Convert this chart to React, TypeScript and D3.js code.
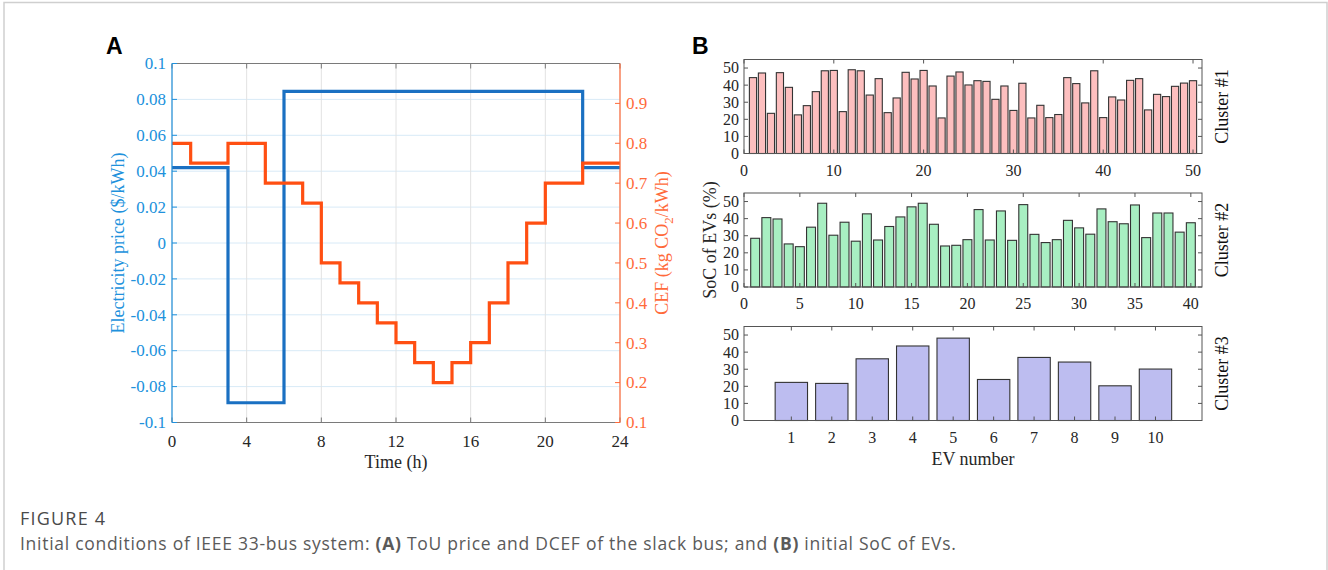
import React, { useEffect, useRef } from "react";
import * as d3 from "d3";

// Panel A: ToU price and CEF of the slack bus
const priceTimes = [0, 3, 6, 22, 24];
const priceValues = [0.042, -0.089, 0.0845, 0.042, 0.042];
const cefTimes = [0, 1, 3, 5, 7, 8, 9, 10, 11, 12, 13, 14, 15, 16, 17, 18, 19, 20, 22, 24];
const cefValues = [0.8, 0.75, 0.8, 0.7, 0.65, 0.5, 0.45, 0.4, 0.35, 0.3, 0.25, 0.2, 0.25, 0.3, 0.4, 0.5, 0.6, 0.7, 0.75, 0.75];
const timeTicks = [0, 4, 8, 12, 16, 20, 24];
const priceTicks = [-0.1, -0.08, -0.06, -0.04, -0.02, 0, 0.02, 0.04, 0.06, 0.08, 0.1];
const cefTicks = [0.1, 0.2, 0.3, 0.4, 0.5, 0.6, 0.7, 0.8, 0.9];

// Panel B: initial SoC of EVs per cluster
const cluster1 = [
  44.4, 47.1, 23.5, 47.3, 38.7, 22.6, 28.0, 36.2, 48.4, 48.6,
  24.5, 49.0, 48.4, 34.2, 43.8, 23.9, 32.5, 47.5, 43.6, 48.6,
  39.5, 20.8, 45.3, 47.7, 40.1, 42.6, 42.2, 31.7, 39.5, 25.2,
  41.1, 20.8, 28.2, 21.0, 22.8, 44.4, 40.9, 29.6, 48.4, 21.0,
  33.1, 31.3, 42.8, 43.8, 25.5, 34.6, 33.3, 39.3, 41.2, 42.6,
];
const cluster2 = [
  28.5, 40.6, 39.8, 25.2, 23.6, 35.0, 49.0, 30.3, 37.9, 26.8,
  42.8, 27.5, 35.4, 41.0, 46.9, 49.0, 36.7, 24.0, 24.4, 27.7,
  45.3, 27.5, 44.5, 27.3, 48.2, 30.8, 26.0, 27.7, 39.0, 34.6,
  30.9, 45.7, 38.2, 37.0, 48.0, 28.9, 43.3, 43.3, 32.1, 37.6,
];
const cluster3 = [22.3, 21.7, 36.1, 43.6, 48.2, 24.0, 36.9, 34.2, 20.3, 30.1];
const cluster1Ticks = [0, 10, 20, 30, 40, 50];
const cluster2Ticks = [0, 5, 10, 15, 20, 25, 30, 35, 40];
const cluster3Ticks = [1, 2, 3, 4, 5, 6, 7, 8, 9, 10];
const socTicks = [0, 10, 20, 30, 40, 50];

const SERIF = "'Liberation Serif', 'Times New Roman', serif";
const AX = "#262626";

const App = () => {
  const ref = useRef(null);

  useEffect(() => {
    const svg = d3.select(ref.current);
    svg.selectAll("*").remove();

    // figure frame
    svg.append("path")
      .attr("d", "M4,572 V2.5 H1327 V572")
      .attr("fill", "none")
      .attr("stroke", "#cfcfcf")
      .attr("stroke-width", 1.5);

    // ---------- Panel A ----------
    const left = 172, right = 620, top = 63.5, bottom = 422.5;
    const x = d3.scaleLinear([0, 24], [left, right]);
    const yL = d3.scaleLinear([-0.1, 0.1], [bottom, top]);
    const yR = d3.scaleLinear([0.1, 1.0], [bottom, top]);
    const blue = "#1a70c2";
    const blueTxt = "#2091dc";
    const orange = "#ff4f12";
    const orangeTxt = "#ff6a3a";

    const a = svg.append("g");

    a.append("text").attr("x", 106).attr("y", 54)
      .attr("font-family", "'Liberation Sans', Arial, sans-serif")
      .attr("font-weight", "bold").attr("font-size", 23).text("A");

    // grid
    a.selectAll(".hg").data(priceTicks).join("line")
      .attr("x1", left).attr("x2", right)
      .attr("y1", (d) => yL(d)).attr("y2", (d) => yL(d))
      .attr("stroke", "#d8eaf7").attr("stroke-width", 1);
    a.selectAll(".vg").data(timeTicks).join("line")
      .attr("x1", (d) => x(d)).attr("x2", (d) => x(d))
      .attr("y1", top).attr("y2", bottom)
      .attr("stroke", "#e2e2e2").attr("stroke-width", 1);

    // series
    const priceLine = d3.line()
      .x((d, i) => x(priceTimes[i]))
      .y((d) => yL(d))
      .curve(d3.curveStepAfter);
    const cefLine = d3.line()
      .x((d, i) => x(cefTimes[i]))
      .y((d) => yR(d))
      .curve(d3.curveStepAfter);

    a.append("path").attr("d", priceLine(priceValues))
      .attr("fill", "none").attr("stroke", blue).attr("stroke-width", 3.2);
    a.append("path").attr("d", cefLine(cefValues))
      .attr("fill", "none").attr("stroke", orange).attr("stroke-width", 3.2);

    // box top / bottom
    a.append("line").attr("x1", left).attr("x2", right).attr("y1", top).attr("y2", top)
      .attr("stroke", "#7a7a7a").attr("stroke-width", 1);
    a.append("line").attr("x1", left).attr("x2", right).attr("y1", bottom).attr("y2", bottom)
      .attr("stroke", "#7a7a7a").attr("stroke-width", 1);
    // x ticks
    timeTicks.forEach((t) => {
      a.append("line").attr("x1", x(t)).attr("x2", x(t)).attr("y1", bottom).attr("y2", bottom - 5)
        .attr("stroke", "#7a7a7a");
      a.append("line").attr("x1", x(t)).attr("x2", x(t)).attr("y1", top).attr("y2", top + 5)
        .attr("stroke", "#7a7a7a");
      a.append("text").attr("x", x(t)).attr("y", bottom + 24)
        .attr("text-anchor", "middle").attr("font-family", SERIF).attr("font-size", 17)
        .attr("fill", AX).text(t);
    });
    a.append("text").attr("x", (left + right) / 2).attr("y", 468)
      .attr("text-anchor", "middle").attr("font-family", SERIF).attr("font-size", 18)
      .attr("fill", AX).text("Time (h)");

    // left axis
    a.append("line").attr("x1", left).attr("x2", left).attr("y1", top).attr("y2", bottom)
      .attr("stroke", blueTxt).attr("stroke-width", 1.2);
    priceTicks.forEach((t) => {
      a.append("line").attr("x1", left).attr("x2", left + 5).attr("y1", yL(t)).attr("y2", yL(t))
        .attr("stroke", blueTxt);
      a.append("text").attr("x", left - 6).attr("y", yL(t)).attr("dy", "0.34em")
        .attr("text-anchor", "end").attr("font-family", SERIF).attr("font-size", 17)
        .attr("fill", blueTxt).text(t === 0 ? "0" : String(+t.toFixed(2)));
    });
    a.append("text")
      .attr("transform", `translate(124,${(top + bottom) / 2}) rotate(-90)`)
      .attr("text-anchor", "middle").attr("font-family", SERIF).attr("font-size", 18)
      .attr("fill", blueTxt).text("Electricity price ($/kWh)");

    // right axis
    a.append("line").attr("x1", right).attr("x2", right).attr("y1", top).attr("y2", bottom)
      .attr("stroke", orangeTxt).attr("stroke-width", 1.2);
    cefTicks.forEach((t) => {
      a.append("line").attr("x1", right).attr("x2", right - 5).attr("y1", yR(t)).attr("y2", yR(t))
        .attr("stroke", orangeTxt);
      a.append("text").attr("x", right + 6).attr("y", yR(t)).attr("dy", "0.34em")
        .attr("text-anchor", "start").attr("font-family", SERIF).attr("font-size", 17)
        .attr("fill", orangeTxt).text(t.toFixed(1));
    });
    const cefLabel = a.append("text")
      .attr("transform", `translate(668,${(top + bottom) / 2}) rotate(-90)`)
      .attr("text-anchor", "middle").attr("font-family", SERIF).attr("font-size", 18)
      .attr("fill", orangeTxt);
    cefLabel.append("tspan").text("CEF (kg CO");
    cefLabel.append("tspan").attr("font-size", 13).attr("dy", 5).text("2");
    cefLabel.append("tspan").attr("dy", -5).text("/kWh)");

    // ---------- Panel B ----------
    const bLeft = 744, bRight = 1202, bHeight = 94;
    svg.append("text").attr("x", 692).attr("y", 54)
      .attr("font-family", "'Liberation Sans', Arial, sans-serif")
      .attr("font-weight", "bold").attr("font-size", 23).text("B");

    const drawCluster = (values, domain, ticks, yTop, fill, label, xLabel) => {
      const g = svg.append("g");
      const bx = d3.scaleLinear(domain, [bLeft, bRight]);
      const by = d3.scaleLinear([0, 55], [yTop + bHeight, yTop]);
      const bw = bx(0.8) - bx(0);

      g.selectAll("rect").data(values).join("rect")
        .attr("x", (d, i) => bx(i + 1) - bw / 2)
        .attr("width", bw)
        .attr("y", (d) => by(d))
        .attr("height", (d) => by(0) - by(d))
        .attr("fill", fill)
        .attr("stroke", "#333")
        .attr("stroke-width", 1.1);

      g.append("rect").attr("x", bLeft).attr("y", yTop)
        .attr("width", bRight - bLeft).attr("height", bHeight)
        .attr("fill", "none").attr("stroke", "#555").attr("stroke-width", 1);

      ticks.forEach((t) => {
        g.append("line").attr("x1", bx(t)).attr("x2", bx(t))
          .attr("y1", yTop + bHeight).attr("y2", yTop + bHeight - 4).attr("stroke", "#555");
        g.append("line").attr("x1", bx(t)).attr("x2", bx(t))
          .attr("y1", yTop).attr("y2", yTop + 4).attr("stroke", "#555");
        g.append("text").attr("x", bx(t)).attr("y", yTop + bHeight + 22)
          .attr("text-anchor", "middle").attr("font-family", SERIF).attr("font-size", 16)
          .attr("fill", AX).text(t);
      });
      socTicks.forEach((t) => {
        g.append("line").attr("x1", bLeft).attr("x2", bLeft + 4)
          .attr("y1", by(t)).attr("y2", by(t)).attr("stroke", "#555");
        g.append("line").attr("x1", bRight).attr("x2", bRight - 4)
          .attr("y1", by(t)).attr("y2", by(t)).attr("stroke", "#555");
        g.append("text").attr("x", bLeft - 5).attr("y", by(t)).attr("dy", "0.34em")
          .attr("text-anchor", "end").attr("font-family", SERIF).attr("font-size", 16)
          .attr("fill", AX).text(t);
      });
      g.append("text")
        .attr("transform", `translate(1228,${yTop + bHeight / 2}) rotate(-90)`)
        .attr("text-anchor", "middle").attr("font-family", SERIF).attr("font-size", 18)
        .attr("fill", "#111").text(label);
      if (xLabel) {
        g.append("text").attr("x", (bLeft + bRight) / 2).attr("y", yTop + bHeight + 44)
          .attr("text-anchor", "middle").attr("font-family", SERIF).attr("font-size", 18)
          .attr("fill", AX).text(xLabel);
      }
    };

    drawCluster(cluster1, [0, 51], cluster1Ticks, 59.5, "#fdbfbf", "Cluster #1", null);
    drawCluster(cluster2, [0, 41], cluster2Ticks, 193, "#a8efc2", "Cluster #2", null);
    drawCluster(cluster3, [-0.17, 11.15], cluster3Ticks, 326.5, "#bdbdf0", "Cluster #3", "EV number");

    svg.append("text")
      .attr("transform", `translate(716,${193 + bHeight / 2}) rotate(-90)`)
      .attr("text-anchor", "middle").attr("font-family", SERIF).attr("font-size", 18)
      .attr("fill", AX).text("SoC of EVs (%)");

    // ---------- Caption ----------
    svg.append("text").attr("x", 20).attr("y", 525)
      .attr("font-family", "'Open Sans', Lato, sans-serif").attr("font-size", 18)
      .attr("letter-spacing", 1.2)
      .attr("fill", "#4a4a4a").text("FIGURE 4");
    const cap = svg.append("text").attr("x", 20).attr("y", 550)
      .attr("font-family", "'Open Sans', Lato, sans-serif").attr("font-size", 17.5)
      .attr("letter-spacing", 0.72)
      .attr("fill", "#5a5a5a");
    cap.append("tspan").text("Initial conditions of IEEE 33-bus system: ");
    cap.append("tspan").attr("font-weight", "bold").text("(A)");
    cap.append("tspan").text(" ToU price and DCEF of the slack bus; and ");
    cap.append("tspan").attr("font-weight", "bold").text("(B)");
    cap.append("tspan").text(" initial SoC of EVs.");
  }, []);

  return (
    <div style={{ position: "absolute", left: 0, top: 0, width: 1328, height: 570, background: "#fff" }}>
      <svg ref={ref} width={1328} height={570} viewBox="0 0 1328 570" style={{ display: "block" }} />
    </div>
  );
};

export default App;
